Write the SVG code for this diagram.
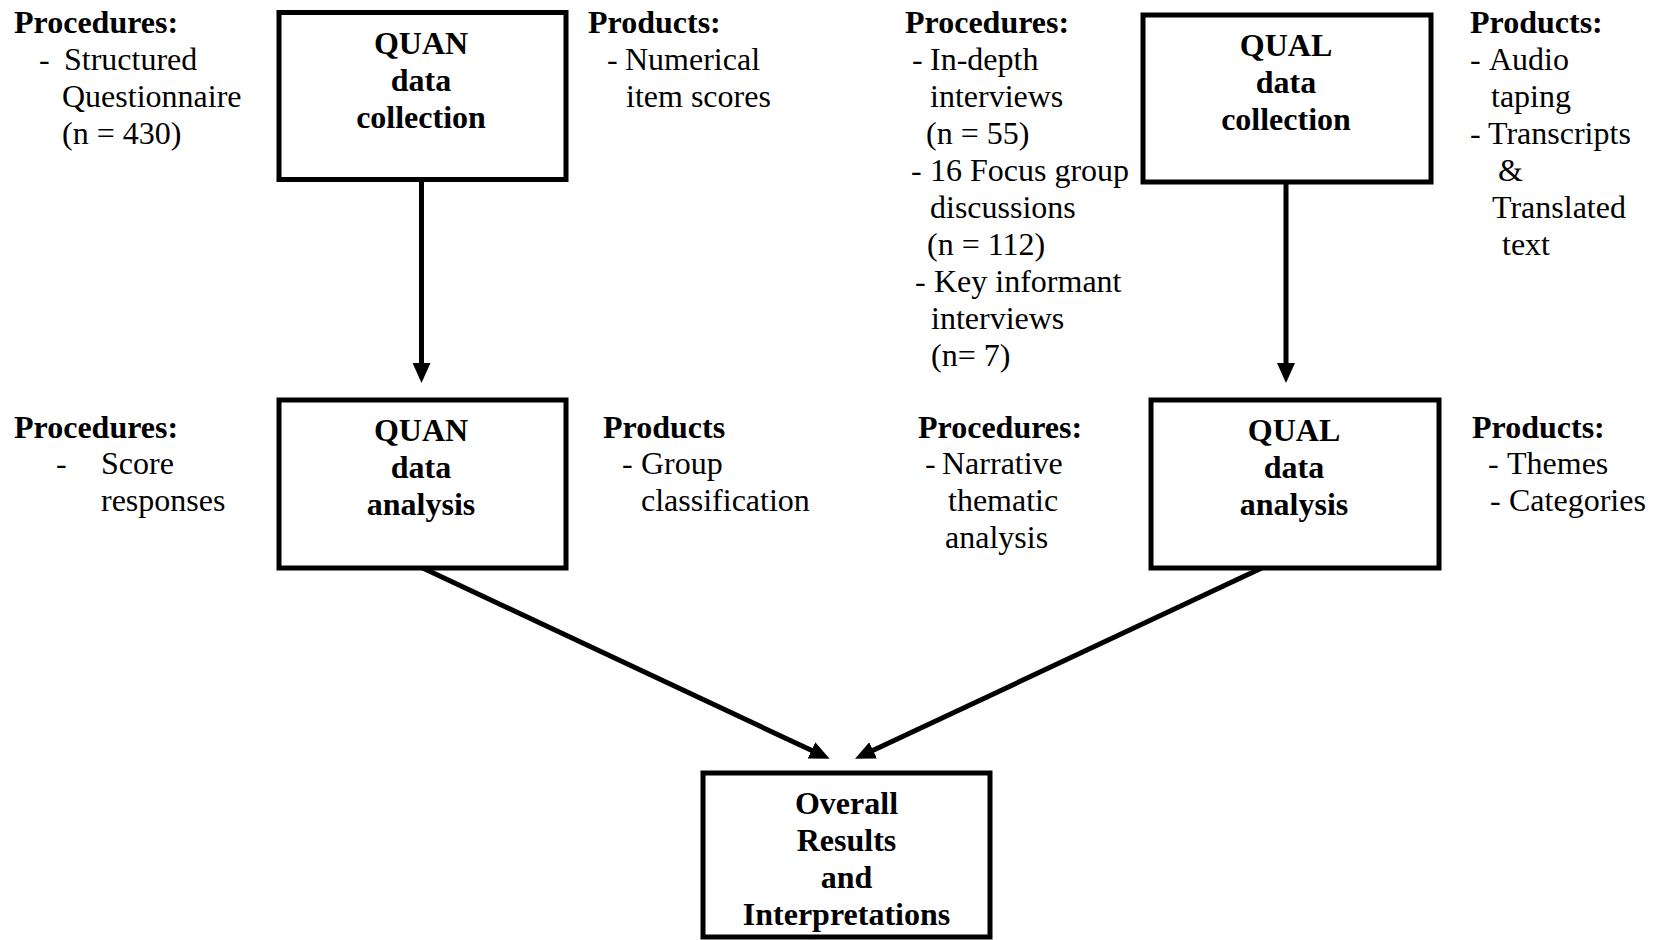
<svg xmlns="http://www.w3.org/2000/svg" width="1657" height="940" viewBox="0 0 1657 940">
  <style>
    .box { fill: #ffffff; stroke: #000000; stroke-width: 5; }
    .t { font-family: "Liberation Serif", "Times New Roman", serif; font-size: 32px; fill: #000000; }
    .b { font-weight: bold; }
    .c { text-anchor: middle; }
    .edge { stroke: #000000; stroke-width: 5; fill: none; marker-end: url(#arrow); }
  </style>
  <defs>
    <marker id="arrow" markerUnits="userSpaceOnUse" markerWidth="20" markerHeight="18" refX="1" refY="9" orient="auto">
      <path d="M0,0 L20,9 L0,18 z" fill="#000000"/>
    </marker>
  </defs>
  <rect width="1657" height="940" fill="#ffffff"/>

  <g id="connectors">
    <line class="edge" x1="421.5" y1="180" x2="421.5" y2="364"/>
    <line class="edge" x1="1286" y1="182" x2="1286" y2="364"/>
    <line class="edge" x1="422.7" y1="568" x2="812.4" y2="750.8"/>
    <line class="edge" x1="1261.8" y1="568" x2="872.2" y2="750.8"/>
  </g>

  <g id="quan-collection">
    <rect class="box" x="279" y="12.5" width="287" height="167"/>
    <text class="t b c" x="421" y="54">QUAN</text>
    <text class="t b c" x="421" y="91">data</text>
    <text class="t b c" x="421" y="128">collection</text>
  </g>

  <g id="quan-analysis">
    <rect class="box" x="279" y="400" width="287" height="168"/>
    <text class="t b c" x="421" y="441">QUAN</text>
    <text class="t b c" x="421" y="478">data</text>
    <text class="t b c" x="421" y="515">analysis</text>
  </g>

  <g id="qual-collection">
    <rect class="box" x="1143" y="15" width="288" height="167"/>
    <text class="t b c" x="1286" y="56">QUAL</text>
    <text class="t b c" x="1286" y="93">data</text>
    <text class="t b c" x="1286" y="130">collection</text>
  </g>

  <g id="qual-analysis">
    <rect class="box" x="1151" y="400" width="288" height="168"/>
    <text class="t b c" x="1294" y="441">QUAL</text>
    <text class="t b c" x="1294" y="478">data</text>
    <text class="t b c" x="1294" y="515">analysis</text>
  </g>

  <g id="overall-results">
    <rect class="box" x="703" y="773" width="287" height="164"/>
    <text class="t b c" x="846.5" y="814">Overall</text>
    <text class="t b c" x="846.5" y="851">Results</text>
    <text class="t b c" x="846.5" y="888">and</text>
    <text class="t b c" x="846.5" y="925">Interpretations</text>
  </g>

  <g id="quan-collection-procedures">
    <text class="t b" x="14" y="33">Procedures:</text>
    <text class="t" y="70"><tspan x="39">-</tspan><tspan x="64">Structured</tspan></text>
    <text class="t" x="62" y="107">Questionnaire</text>
    <text class="t" x="62" y="144">(n = 430)</text>
  </g>

  <g id="quan-collection-products">
    <text class="t b" x="588" y="33">Products:</text>
    <text class="t" y="70"><tspan x="607">-</tspan><tspan x="625">Numerical</tspan></text>
    <text class="t" x="626" y="107">item scores</text>
  </g>

  <g id="qual-collection-procedures">
    <text class="t b" x="905" y="33">Procedures:</text>
    <text class="t" y="70"><tspan x="912">-</tspan><tspan x="930">In-depth</tspan></text>
    <text class="t" x="930" y="107">interviews</text>
    <text class="t" x="926" y="144">(n = 55)</text>
    <text class="t" y="181"><tspan x="911">-</tspan><tspan x="930">16 Focus group</tspan></text>
    <text class="t" x="930" y="218">discussions</text>
    <text class="t" x="927" y="255">(n = 112)</text>
    <text class="t" y="292"><tspan x="915">-</tspan><tspan x="934">Key informant</tspan></text>
    <text class="t" x="931" y="329">interviews</text>
    <text class="t" x="931" y="366">(n= 7)</text>
  </g>

  <g id="qual-collection-products">
    <text class="t b" x="1470" y="33">Products:</text>
    <text class="t" y="70"><tspan x="1470">-</tspan><tspan x="1489">Audio</tspan></text>
    <text class="t" x="1491" y="107">taping</text>
    <text class="t" y="144"><tspan x="1470">-</tspan><tspan x="1488">Transcripts</tspan></text>
    <text class="t" x="1498" y="181">&amp;</text>
    <text class="t" x="1492" y="218">Translated</text>
    <text class="t" x="1502" y="255">text</text>
  </g>

  <g id="quan-analysis-procedures">
    <text class="t b" x="14" y="438">Procedures:</text>
    <text class="t" y="474"><tspan x="56">-</tspan><tspan x="101">Score</tspan></text>
    <text class="t" x="101" y="511">responses</text>
  </g>

  <g id="quan-analysis-products">
    <text class="t b" x="603" y="438">Products</text>
    <text class="t" y="474"><tspan x="622">-</tspan><tspan x="641">Group</tspan></text>
    <text class="t" x="641" y="511">classification</text>
  </g>

  <g id="qual-analysis-procedures">
    <text class="t b" x="918" y="438">Procedures:</text>
    <text class="t" y="474"><tspan x="925">-</tspan><tspan x="942">Narrative</tspan></text>
    <text class="t" x="948" y="511">thematic</text>
    <text class="t" x="945" y="548">analysis</text>
  </g>

  <g id="qual-analysis-products">
    <text class="t b" x="1472" y="438">Products:</text>
    <text class="t" y="474"><tspan x="1488">-</tspan><tspan x="1507">Themes</tspan></text>
    <text class="t" y="511"><tspan x="1490">-</tspan><tspan x="1509">Categories</tspan></text>
  </g>
</svg>
